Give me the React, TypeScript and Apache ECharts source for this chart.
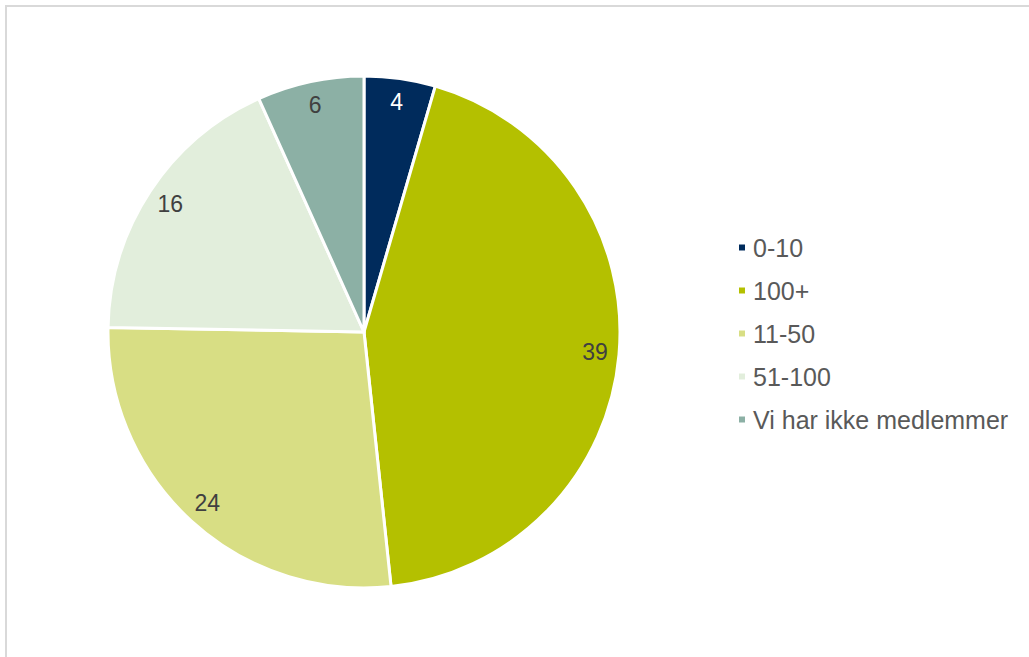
import React, { useEffect, useRef } from "react";
import * as echarts from "echarts";

const categories = ["0-10", "100+", "11-50", "51-100", "Vi har ikke medlemmer"];
const values = [4, 39, 24, 16, 6];
const colors = ["#002b5c", "#b4c000", "#d8de84", "#e2eedc", "#8cb0a5"];
const labelColors = ["#ffffff", "#404040", "#404040", "#404040", "#404040"];

export default function App() {
  const ref = useRef<HTMLDivElement>(null);
  useEffect(() => {
    if (!ref.current) return;
    const chart = echarts.init(ref.current, undefined, { renderer: "svg" });
    const data = categories.map((name, i) => ({
      name,
      value: values[i],
      itemStyle: { color: colors[i] },
    }));
    const labelData = categories.map((name, i) => ({
      name,
      value: values[i],
      label: { color: labelColors[i] },
    }));
    chart.setOption({
      animation: false,
      backgroundColor: "#ffffff",
      graphic: [
        {
          type: "rect",
          shape: { x: 6, y: 6, width: 1200, height: 800 },
          style: { fill: "none", stroke: "#d9d9d9", lineWidth: 2 },
          silent: true,
        },
      ],
      legend: {
        orient: "vertical",
        left: 737,
        top: 235,
        padding: 0,
        itemWidth: 8,
        itemHeight: 8,
        itemGap: 18,
        icon: "rect",
        data: categories,
        textStyle: {
          color: "#595959",
          fontSize: 25,
          lineHeight: 25,
          fontFamily: "Liberation Sans, Arial, sans-serif",
          padding: [0, 0, 0, 2],
        },
        selectedMode: false,
      },
      series: [
        {
          type: "pie",
          center: [364, 332],
          radius: [0, 256],
          startAngle: 90,
          clockwise: true,
          label: { show: false },
          labelLine: { show: false },
          itemStyle: { borderColor: "#ffffff", borderWidth: 3 },
          emphasis: { disabled: true },
          data,
        },
        {
          type: "pie",
          center: [364, 332],
          radius: [202, 256],
          startAngle: 90,
          clockwise: true,
          silent: true,
          legendHoverLink: false,
          itemStyle: { color: "rgba(0,0,0,0)", borderWidth: 0 },
          label: {
            show: true,
            position: "inside",
            formatter: "{c}",
            fontSize: 23,
            fontFamily: "Liberation Sans, Arial, sans-serif",
          },
          labelLine: { show: false },
          emphasis: { disabled: true },
          data: labelData,
        },
      ],
    });
    return () => chart.dispose();
  }, []);
  return (
    <div
      ref={ref}
      style={{ position: "fixed", left: 0, top: 0, width: 1029, height: 657 }}
    />
  );
}
